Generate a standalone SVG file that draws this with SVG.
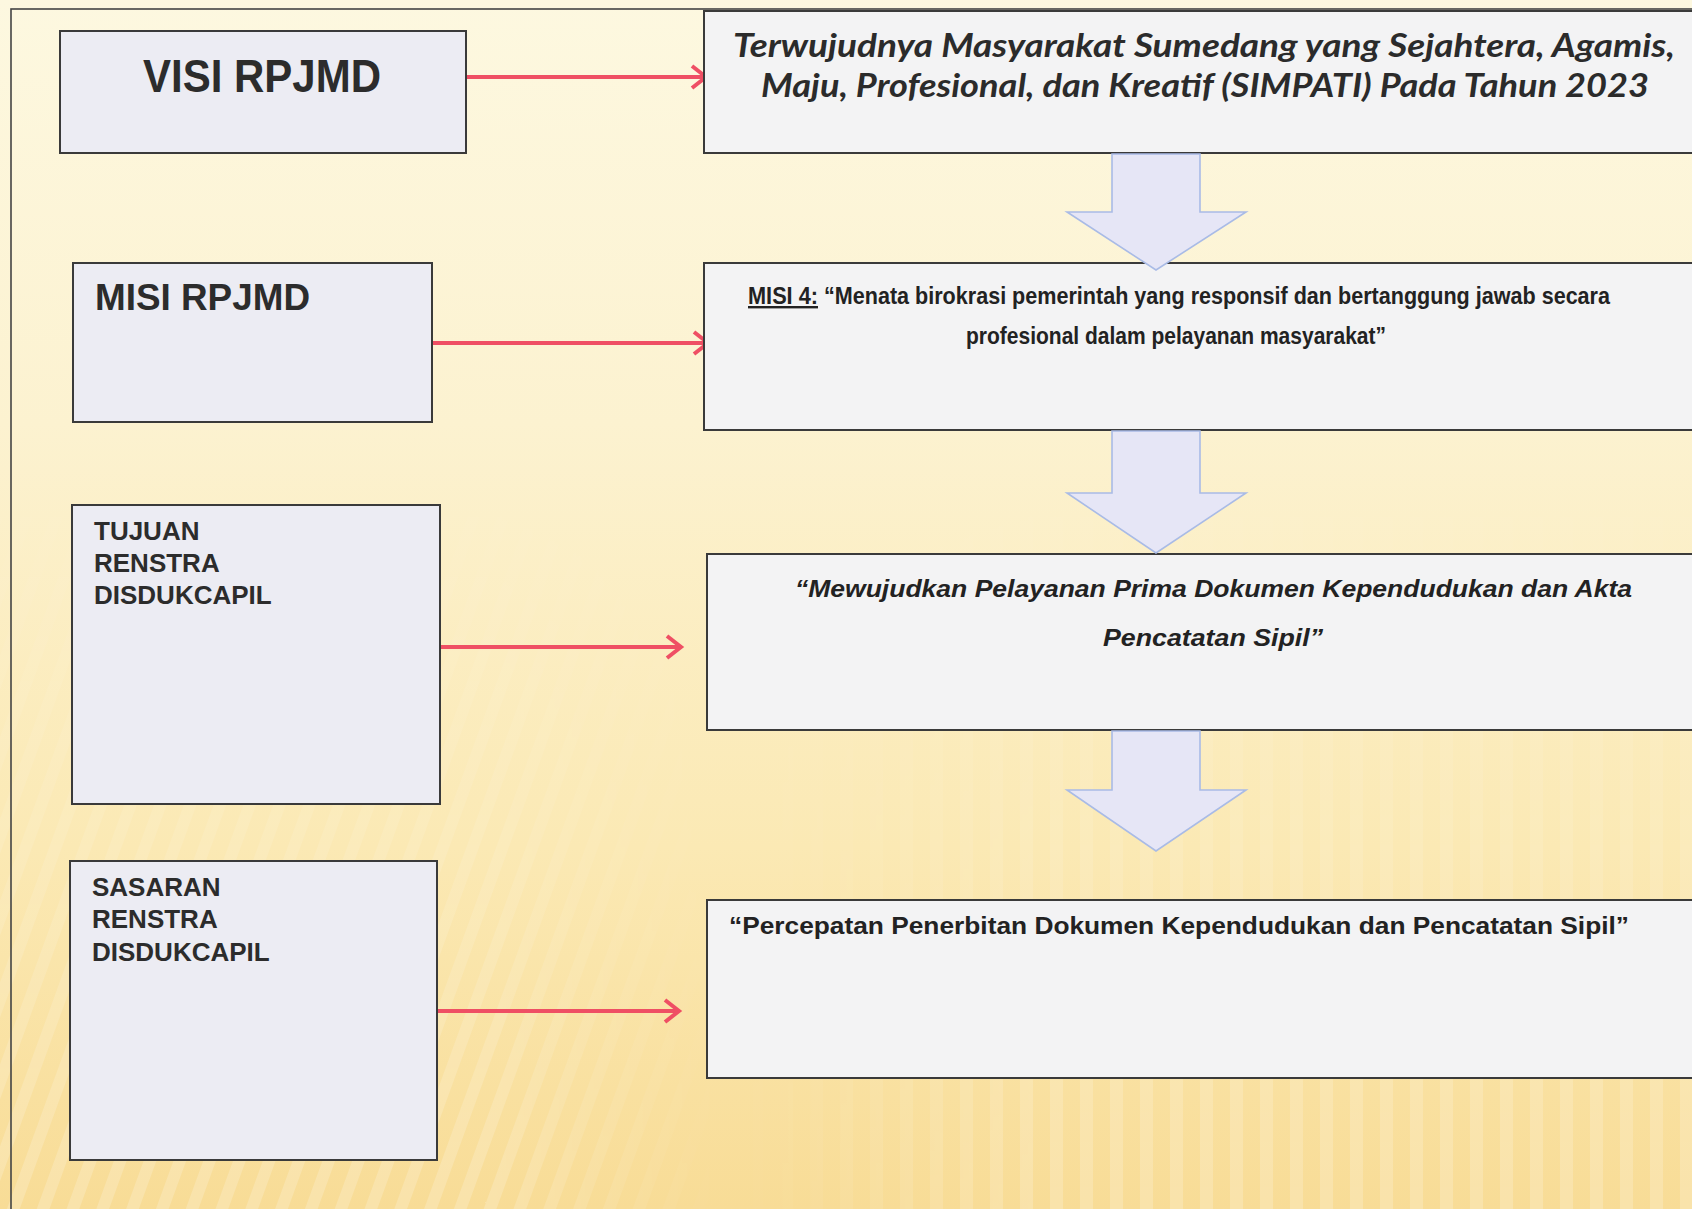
<svg xmlns="http://www.w3.org/2000/svg" width="1692" height="1209" viewBox="0 0 1692 1209">
<defs>
<linearGradient id="bg" x1="0" y1="0" x2="0" y2="1">
<stop offset="0" stop-color="#fdf8e0"/>
<stop offset="0.35" stop-color="#fcf2d0"/>
<stop offset="0.7" stop-color="#fbe9b4"/>
<stop offset="1" stop-color="#f8dc96"/>
</linearGradient>
<pattern id="stripes" width="28" height="28" patternUnits="userSpaceOnUse" patternTransform="rotate(20)">
<rect width="12" height="28" fill="#ffffff" opacity="0.2"/>
</pattern>
<pattern id="vstripes" width="30" height="30" patternUnits="userSpaceOnUse">
<rect width="13" height="30" fill="#ffffff" opacity="0.2"/>
</pattern>
<linearGradient id="fade" x1="0" y1="0" x2="0" y2="1">
<stop offset="0" stop-color="#fff" stop-opacity="0"/>
<stop offset="1" stop-color="#fff" stop-opacity="1"/>
</linearGradient>
<linearGradient id="hl" x1="0" y1="0" x2="1" y2="0">
<stop offset="0.55" stop-color="#fff" stop-opacity="1"/>
<stop offset="0.8" stop-color="#fff" stop-opacity="0"/>
</linearGradient>
<linearGradient id="hr" x1="0" y1="0" x2="1" y2="0">
<stop offset="0.2" stop-color="#fff" stop-opacity="0"/>
<stop offset="0.45" stop-color="#fff" stop-opacity="1"/>
</linearGradient>
<mask id="m"><rect x="0" y="450" width="1692" height="759" fill="url(#fade)"/></mask>
<mask id="ml"><rect x="0" y="0" width="900" height="1209" fill="url(#hl)"/></mask>
<mask id="mr"><rect x="500" y="0" width="1192" height="1209" fill="url(#hr)"/></mask>
<marker id="chev" markerUnits="userSpaceOnUse" markerWidth="22" markerHeight="28" refX="16" refY="13" orient="auto">
<path d="M2,2 L16,13 L2,24" fill="none" stroke="#ef4f64" stroke-width="4"/>
</marker>
<style>
.box{stroke:#3a3a3a;stroke-width:2}
.lbox{fill:#ececf3}
.rbox{fill:#f3f3f4}
.conn{stroke:#ef4f64;stroke-width:4;fill:none;marker-end:url(#chev)}
.blk{fill:#e6e6f6;stroke:#a9bbe6;stroke-width:1.6}
.hdr{font-family:"Liberation Sans",Arial,sans-serif;font-weight:bold;fill:#2c2c2c}
.small{font-family:"Liberation Sans",Arial,sans-serif;font-weight:bold;fill:#222;font-size:24px}
.title{font-family:Lato,"Open Sans",sans-serif;font-weight:bold;font-style:italic;fill:#2b2b2b;font-size:33px}
</style>
</defs>
<rect width="1692" height="1209" fill="url(#bg)"/>
<g mask="url(#m)">
<g mask="url(#ml)"><rect x="0" y="450" width="900" height="759" fill="url(#stripes)"/></g>
<g mask="url(#mr)"><rect x="500" y="450" width="1192" height="759" fill="url(#vstripes)"/></g>
</g>
<rect x="11" y="9" width="1700" height="1230" fill="none" stroke="#444" stroke-width="1.6"/>

<g id="connectors">
<line class="conn" x1="466" y1="77" x2="706" y2="77"/>
<line class="conn" x1="432" y1="343" x2="708" y2="343"/>
<line class="conn" x1="440" y1="647" x2="681" y2="647"/>
<line class="conn" x1="437" y1="1011" x2="679" y2="1011"/>
</g>

<g id="visi-label">
<rect class="box lbox" x="60" y="31" width="406" height="122"/>
<text class="hdr" x="143" y="92" font-size="46" textLength="238" lengthAdjust="spacingAndGlyphs">VISI RPJMD</text>
</g>
<g id="misi-label">
<rect class="box lbox" x="73" y="263" width="359" height="159"/>
<text class="hdr" x="95" y="310" font-size="37" textLength="215" lengthAdjust="spacingAndGlyphs">MISI RPJMD</text>
</g>
<g id="tujuan-label">
<rect class="box lbox" x="72" y="505" width="368" height="299"/>
<text class="hdr" font-size="26"><tspan x="94" y="540">TUJUAN</tspan><tspan x="94" y="572">RENSTRA</tspan><tspan x="94" y="604">DISDUKCAPIL</tspan></text>
</g>
<g id="sasaran-label">
<rect class="box lbox" x="70" y="861" width="367" height="299"/>
<text class="hdr" font-size="26"><tspan x="92" y="896">SASARAN</tspan><tspan x="92" y="928">RENSTRA</tspan><tspan x="92" y="961">DISDUKCAPIL</tspan></text>
</g>

<g id="visi">
<rect class="box rbox" x="704" y="11" width="1000" height="142"/>
<text class="title" x="733" y="57" textLength="942" lengthAdjust="spacingAndGlyphs">Terwujudnya Masyarakat Sumedang yang Sejahtera, Agamis,</text>
<text class="title" x="761" y="97" textLength="888" lengthAdjust="spacingAndGlyphs">Maju, Profesional, dan Kreatif (SIMPATI) Pada Tahun 2023</text>
</g>
<g id="misi">
<rect class="box rbox" x="704" y="263" width="1000" height="167"/>
<text class="small" font-size="19" x="748" y="304" textLength="70" lengthAdjust="spacingAndGlyphs" text-decoration="underline">MISI 4:</text>
<text class="small" font-size="19" x="824" y="304" textLength="786" lengthAdjust="spacingAndGlyphs">“Menata birokrasi pemerintah yang responsif dan bertanggung jawab secara</text>
<text class="small" font-size="19" x="966" y="344" textLength="420" lengthAdjust="spacingAndGlyphs">profesional dalam pelayanan masyarakat”</text>
</g>
<g id="tujuan">
<rect class="box rbox" x="707" y="554" width="1000" height="176"/>
<text class="small" font-style="italic" x="795" y="597" textLength="837" lengthAdjust="spacingAndGlyphs">“Mewujudkan Pelayanan Prima Dokumen Kependudukan dan Akta</text>
<text class="small" font-style="italic" x="1103" y="646" textLength="220" lengthAdjust="spacingAndGlyphs">Pencatatan Sipil”</text>
</g>
<g id="sasaran">
<rect class="box rbox" x="707" y="900" width="1000" height="178"/>
<text class="small" x="729" y="934" textLength="900" lengthAdjust="spacingAndGlyphs">“Percepatan Penerbitan Dokumen Kependudukan dan Pencatatan Sipil”</text>
</g>

<g id="flow-arrows">
<polygon class="blk" points="1112,154 1200,154 1200,212 1246,212 1156,270 1067,212 1112,212"/>
<polygon class="blk" points="1112,431 1200,431 1200,493 1246,493 1156,553 1067,493 1112,493"/>
<polygon class="blk" points="1112,731 1200,731 1200,790 1246,790 1156,851 1067,790 1112,790"/>
</g>
</svg>
